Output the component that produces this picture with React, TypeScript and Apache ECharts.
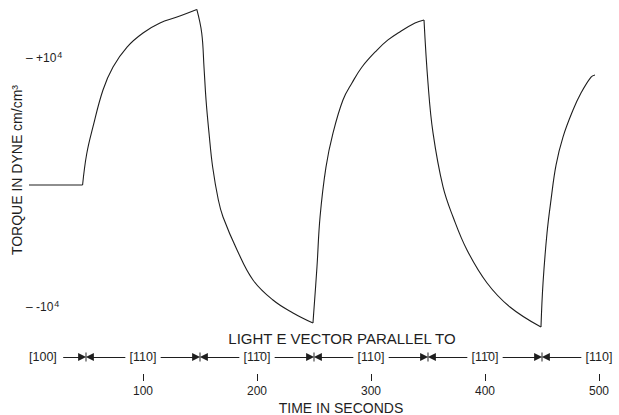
import React, { useEffect, useRef } from "react";
import * as echarts from "echarts";

// Time in seconds and torque in dyne cm/cm^3
const timeSec = [
  0, 10, 20, 30, 40, 47, 50.6, 56.1, 64.9, 73.7, 86, 100, 114.9, 129.8, 147.2,
  151.5, 153.5, 155.3, 157.9, 161.1, 166.1, 170.2, 182.5, 196.5, 214, 231.6, 249.1,
  252.6, 255.3, 260.5, 266.7, 275.4, 283.3, 292.1, 305.3, 314.9, 323.7, 338.6, 346.5,
  350, 354.4, 363.2, 372, 384.2, 401.8, 421.9, 449.1,
  450.9, 454.4, 457.9, 462.3, 468.4, 477.2, 484.2, 493, 496.5,
];
const torque = [
  -200, -200, -200, -200, -200, -200, 2290, 4460, 7430, 9280, 10880, 12010, 12810, 13290, 13900,
  12010, 9280, 6630, 3980, 1245, -1405, -2770, -5420, -7830, -9440, -10480, -11290,
  -6790, -2770, 1240, 3980, 6630, 7990, 9280, 10640, 11450, 12010, 12810, 13050,
  7990, 3980, -360, -2770, -5420, -8070, -10000, -11610,
  -8070, -4060, -1400, 1400, 3650, 5820, 7190, 8470, 8630,
];
const yTickValues = [-10000, 10000];
const xTickValues = [100, 200, 300, 400, 500];
const orientationTimes = [0, 100, 200, 300, 400, 500];
const orientationLabels = ["[100]", "[110]", "[11\u03040]", "[110]", "[11\u03040]", "[110]"];
const switchTimes = [50, 150, 250, 350, 450];

// split the trace into monotone runs so each run can be smoothed without rounding the corners
function monotoneRuns(xs: number[], ys: number[]) {
  const runs: number[][][] = [];
  let cur: number[][] = [[xs[0], ys[0]]];
  let dir = 0;
  for (let i = 1; i < xs.length; i++) {
    const d = Math.sign(ys[i] - ys[i - 1]);
    if (i > 1 && d !== dir) {
      runs.push(cur);
      cur = [[xs[i - 1], ys[i - 1]]];
    }
    dir = d;
    cur.push([xs[i], ys[i]]);
  }
  runs.push(cur);
  return runs;
}

export default function App() {
  const ref = useRef<HTMLDivElement>(null);
  useEffect(() => {
    const chart = echarts.init(ref.current as HTMLDivElement, null, { renderer: "svg" });
    const font = "Liberation Sans";
    const ink = "#1e1e1e";
    const labelGap = 15.5;
    const tipBack = 3.4;
    const segs: any[] = [];
    switchTimes.forEach((s, i) => {
      const lt = orientationTimes[i];
      const rt = orientationTimes[i + 1];
      const start = i === 0 ? lt + 30 : lt + labelGap;
      segs.push({ coords: [[start, 0], [s - tipBack, 0]] });
      segs.push({ coords: [[rt - labelGap, 0], [s + tipBack, 0]] });
    });

    const traceSeries = monotoneRuns(timeSec, torque).map((run) => ({
      type: "line",
      xAxisIndex: 0,
      yAxisIndex: 0,
      data: run,
      showSymbol: false,
      symbol: "none",
      smooth: 0.4,
      lineStyle: { color: ink, width: 1.1 },
    }));

    chart.setOption({
      animation: false,
      backgroundColor: "#ffffff",
      textStyle: { fontFamily: font, color: ink },
      title: [
        {
          text: "LIGHT E VECTOR PARALLEL TO",
          left: 342,
          top: 331,
          padding: 0,
          textAlign: "center",
          textStyle: { fontSize: 15, fontWeight: "normal", fontFamily: font, color: ink },
        },
        {
          text: "TIME IN SECONDS",
          left: 341,
          top: 401,
          padding: 0,
          textAlign: "center",
          textStyle: { fontSize: 14, fontWeight: "normal", fontFamily: font, color: ink },
        },
      ],
      grid: [
        { left: 29, right: 20, top: 8.2, height: 323.7, outerBoundsMode: "none", containLabel: false },
        { left: 29, right: 20, top: 340, height: 34, outerBoundsMode: "none", containLabel: false },
      ],
      xAxis: [
        { type: "value", gridIndex: 0, min: 0, max: 500, show: false },
        {
          type: "value",
          gridIndex: 1,
          min: 0,
          max: 500,
          axisLine: { show: false, onZero: false },
          splitLine: { show: false },
          axisTick: {
            show: true,
            customValues: xTickValues,
            length: 7,
            lineStyle: { color: ink, width: 1 },
          },
          axisLabel: {
            customValues: xTickValues,
            margin: 11,
            fontSize: 12,
            fontFamily: font,
            color: ink,
          },
        },
      ],
      yAxis: [
        {
          type: "value",
          gridIndex: 0,
          min: -12000,
          max: 14000,
          axisLine: { show: false, onZero: false },
          axisTick: { show: false },
          splitLine: { show: false },
          name: "TORQUE IN DYNE cm/cm\u00b3",
          nameLocation: "middle",
          nameGap: 5,
          nameRotate: 90,
          nameMoveOverlap: false,
          nameTextStyle: { fontSize: 14, fontFamily: font, color: ink },
          axisLabel: {
            customValues: yTickValues,
            inside: true,
            margin: -3,
            formatter: (v: number) => `{d|\u2013} {n|${v > 0 ? "+" : "-"}10}{s|4}`,
            rich: {
              d: { fontSize: 12, fontFamily: font, color: ink },
              n: { fontSize: 12, fontFamily: font, color: ink },
              s: { fontSize: 9, fontFamily: font, color: ink, padding: [0, 0, 7, 1] },
            },
          },
        },
        { type: "value", gridIndex: 1, min: -1, max: 1, show: false },
      ],
      series: [
        ...traceSeries,
        {
          type: "lines",
          coordinateSystem: "cartesian2d",
          xAxisIndex: 1,
          yAxisIndex: 1,
          data: segs,
          symbol: ["none", "triangle"],
          symbolSize: [4.5, 8],
          lineStyle: { color: ink, width: 1, opacity: 1 },
          itemStyle: { color: ink },
        },
        {
          type: "scatter",
          xAxisIndex: 1,
          yAxisIndex: 1,
          data: switchTimes.map((s) => [s, 0]),
          symbol: "rect",
          symbolSize: [1.2, 9],
          itemStyle: { color: ink },
        },
        {
          type: "scatter",
          xAxisIndex: 1,
          yAxisIndex: 1,
          symbolSize: 0,
          itemStyle: { color: ink, opacity: 1 },
          data: orientationTimes.map((t, i) => ({
            value: [t, 0],
            name: orientationLabels[i],
            label: i === 0 ? { align: "left" } : undefined,
          })),
          label: {
            show: true,
            position: [0, 0],
            align: "center",
            verticalAlign: "middle",
            formatter: "{b}",
            fontSize: 12.5,
            fontFamily: font,
            color: ink,
            textBorderWidth: 0,
          },
        },
      ],
    });
    return () => chart.dispose();
  }, []);
  return (
    <div
      ref={ref}
      style={{ position: "fixed", left: 0, top: 0, width: 619, height: 415, background: "#fff" }}
    />
  );
}
